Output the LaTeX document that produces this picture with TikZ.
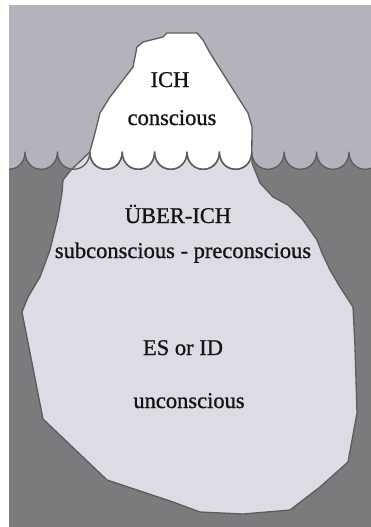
\documentclass[tikz,border=0pt]{standalone}
\usepackage{fontspec}
\setmainfont{Liberation Serif}
\newfontfamily\lblfont[FakeBold=0.9]{Liberation Serif}
\definecolor{skyc}{HTML}{B3B3BB}
\definecolor{waterc}{HTML}{7B7B7D}
\definecolor{icec}{HTML}{DCDDE4}
\definecolor{linec}{HTML}{5C5C5E}
\tikzset{
  outl/.style={draw=linec, line width=1.3pt, line join=round},
  lbl/.style={anchor=base, inner sep=0pt, font=\lblfont\fontsize{22.5}{27}\selectfont, text=black!92}
}
\begin{document}
\begin{tikzpicture}[x=1pt,y=-1pt]
\useasboundingbox (0,0) rectangle (371,527);
\fill[white] (0,0) rectangle (371,527);
\begin{scope}
\clip (9,6) rectangle (371,527);
\fill[waterc] (9,6) rectangle (371,527);
% sky with scalloped bottom
\fill[skyc] (-7.4,152)
  \foreach \k [evaluate=\k as \xa using 25+32.4*(\k-1), evaluate=\k as \xb using 25+32.4*\k] in {0,...,11} { .. controls (\xa+0.5,175) and (\xb-0.5,175) .. (\xb,152) }
  -- (381.4,0) -- (-7.4,0) -- cycle;
% underwater ice
\filldraw[fill=icec, outl] (89.8,152)
  \foreach \k [evaluate=\k as \xa using 25+32.4*(\k-1), evaluate=\k as \xb using 25+32.4*\k] in {3,...,7} { .. controls (\xa+0.5,175) and (\xb-0.5,175) .. (\xb,152) }
  -- (252,163) -- (260,183) -- (273,197) -- (288,205) -- (303,220) -- (317,240)
  -- (322,253) -- (330,270) -- (340,287) -- (353,307) -- (355,347) -- (357,413)
  -- (348,462) -- (320,487) -- (290,510) -- (243,514) -- (200,512) -- (173,502)
  -- (107,480) -- (43,419) -- (22,312) -- (28,297) -- (40,277) -- (50,250)
  -- (58,217) -- (62,193) -- (63,180) -- (71,170) -- cycle;
% top ice
\filldraw[fill=white, outl] (89.8,152)
  \foreach \k [evaluate=\k as \xa using 25+32.4*(\k-1), evaluate=\k as \xb using 25+32.4*\k] in {3,...,7} { .. controls (\xa+0.5,175) and (\xb-0.5,175) .. (\xb,152) }
  -- (252,127) -- (248,113) -- (227,80) -- (210,53) -- (203,40) -- (197,33)
  -- (167,33) -- (163,37) -- (143,42) -- (137,47) -- (133,67) -- (123,80)
  -- (110,97) -- (100,113) -- (95,133) -- cycle;
% water line
\draw[outl] (-7.4,152)
  \foreach \k [evaluate=\k as \xa using 25+32.4*(\k-1), evaluate=\k as \xb using 25+32.4*\k] in {0,...,11} { .. controls (\xa+0.5,175) and (\xb-0.5,175) .. (\xb,152) };
\end{scope}
\node[lbl] (ich) at (170,87) {ICH};
\node[lbl] (consc) at (172,125) {conscious};
\node[lbl] (ueber) at (178,223) {ÜBER-ICH};
\node[lbl] (subc) at (183,258) {subconscious - preconscious};
\node[lbl] (es) at (183,355) {ES or ID};
\node[lbl] (uncon) at (189,408) {unconscious};
\end{tikzpicture}
\end{document}
